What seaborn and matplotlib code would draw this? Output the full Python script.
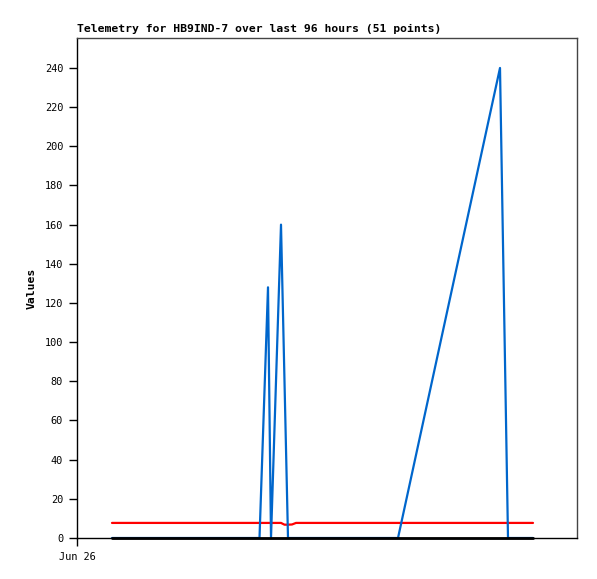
import matplotlib
matplotlib.use('Agg')
import matplotlib.pyplot as plt
import seaborn as sns
import pandas as pd

# hours since Jun 26 00:00
hours = [7.0, 8.6, 10.2, 11.8, 13.4, 15.2, 16.8, 18.4, 20.0, 21.6,
         23.4, 25.0, 26.6, 28.2, 29.8, 31.6, 33.2, 34.8, 36.5, 38.2,
         38.8, 40.8, 41.5, 42.2, 43.0, 43.8, 45.6, 47.2, 49.0, 50.6,
         52.4, 54.0, 55.8, 57.4, 59.2, 60.8, 62.6, 64.2, 84.6, 86.2,
         87.8, 89.6, 91.2]
blue_vals = [0, 0, 0, 0, 0, 0, 0, 0, 0, 0,
             0, 0, 0, 0, 0, 0, 0, 0, 0, 128,
             0, 160, 80, 0, 0, 0, 0, 0, 0, 0,
             0, 0, 0, 0, 0, 0, 0, 0, 240, 0,
             0, 0, 0]
red_vals = [7.7, 7.7, 7.7, 7.7, 7.7, 7.7, 7.7, 7.7, 7.7, 7.7,
            7.7, 7.7, 7.7, 7.7, 7.7, 7.7, 7.7, 7.7, 7.7, 7.7,
            7.7, 7.7, 6.8, 6.8, 6.9, 7.7, 7.7, 7.7, 7.7, 7.7,
            7.7, 7.7, 7.7, 7.7, 7.7, 7.7, 7.7, 7.7, 7.7, 7.7,
            7.7, 7.7, 7.7]
black_vals = [0] * len(hours)

y_ticks = list(range(0, 241, 20))
x_tick_label = 'Jun 26'

df = pd.DataFrame({'hours': hours, 'blue': blue_vals, 'red': red_vals, 'black': black_vals})

sns.set_style('white')
plt.rcParams['font.family'] = ['DejaVu Sans Mono', 'DejaVu Sans']
plt.rcParams['text.color'] = 'black'
plt.rcParams['axes.labelcolor'] = 'black'
plt.rcParams['xtick.color'] = 'black'
plt.rcParams['ytick.color'] = 'black'

fig = plt.figure(figsize=(5.97, 5.79), dpi=100)
ax = fig.add_axes([77 / 597, 41 / 579, 500 / 597, 500 / 579])

sns.lineplot(data=df, x='hours', y='red', color='#ff0000', linewidth=1.6, ax=ax)
sns.lineplot(data=df, x='hours', y='blue', color='#0066cc', linewidth=1.6, ax=ax)
sns.lineplot(data=df, x='hours', y='black', color='#000000', linewidth=2.0, ax=ax, clip_on=False)

ax.set_xlim(0, 100)
ax.set_ylim(0, 255.3)
ax.set_yticks(y_ticks)
ax.set_yticklabels([str(v) for v in y_ticks], fontsize=7.4)
ax.set_xticks([0])
ax.set_xticklabels([x_tick_label], fontsize=7.4)
ax.tick_params(axis='both', direction='out', length=6, width=1, colors='black', pad=4, left=True, bottom=True)

for side in ['top', 'right']:
    ax.spines[side].set_color('#444444')
    ax.spines[side].set_linewidth(1)
for side in ['left', 'bottom']:
    ax.spines[side].set_color('black')
    ax.spines[side].set_linewidth(1)

ax.set_xlabel('')
ax.set_ylabel('Values', fontsize=8.2, fontweight='bold', labelpad=6, color='black')
ax.set_title('Telemetry for HB9IND-7 over last 96 hours (51 points)',
             loc='left', fontsize=8.2, fontweight='bold', pad=4, color='black')

fig.savefig('out.png', dpi=100)
